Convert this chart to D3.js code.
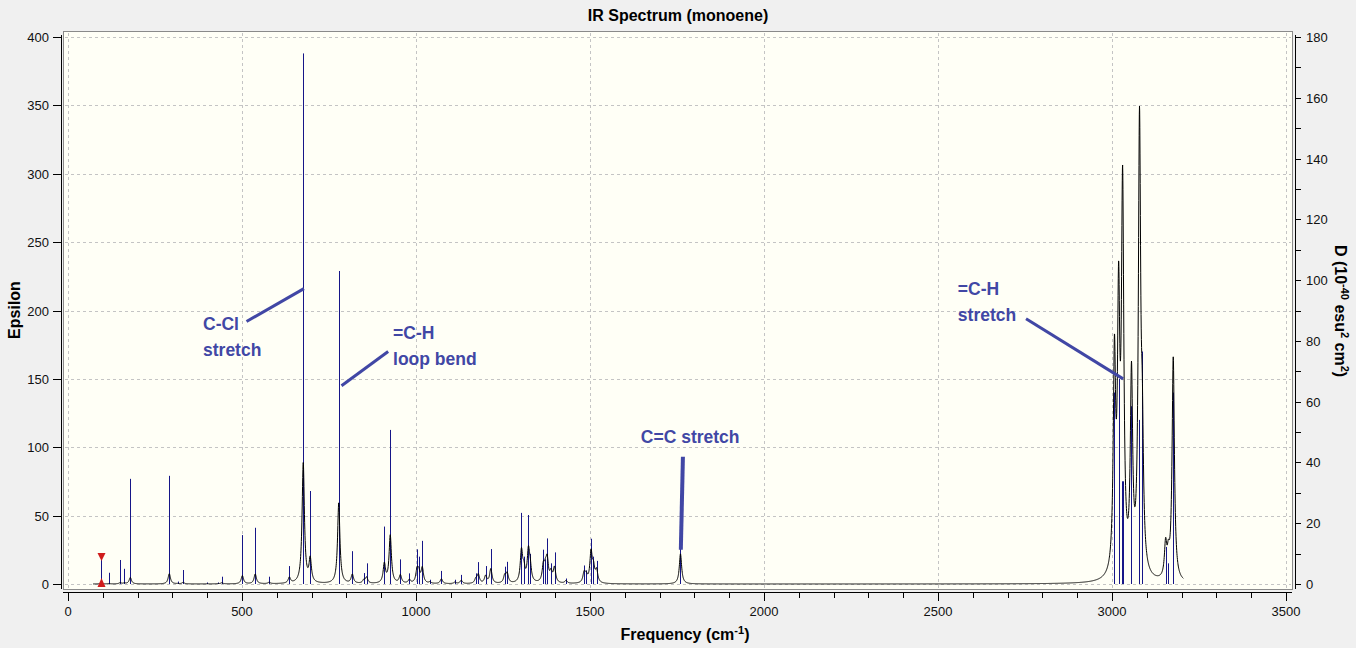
<!DOCTYPE html>
<html>
<head>
<meta charset="utf-8">
<script src="https://cdn.jsdelivr.net/npm/d3@7"></script>
<style>
  body { margin: 0; background: #f0f0f0; }
  text { font-family: 'Liberation Sans', Arial, sans-serif; }
</style>
</head>
<body>
<div id="chart"></div>
<script>
(function(){

// Data

// normal mode frequencies (cm-1)
let modeFreq = [95, 117, 150, 162, 179, 291, 315, 331, 400, 430, 442, 501, 538, 578, 636,
  676, 696, 778, 817, 850, 858, 909, 926, 955, 981, 1003, 1008, 1018, 1040, 1073, 1112,
  1130, 1172, 1179, 1200, 1215, 1255, 1262, 1303, 1310, 1323, 1328, 1366, 1372, 1377,
  1388, 1398, 1431, 1483, 1489, 1503, 1510, 1519, 1760,
  3007, 3019, 3030, 3031, 3056, 3079, 3087, 3154, 3162, 3176]

// stick heights, dipole strength D (10^-40 esu^2 cm^2, right axis)
let modeD = [8.9, 3.7, 7.9, 5.0, 34.6, 35.6, 0.8, 4.6, 0.5, 0.5, 2.4, 16.1, 18.5, 2.4, 5.9,
  174.6, 30.6, 103, 10.8, 3.6, 6.8, 18.9, 50.7, 8.1, 3.5, 11.4, 9.0, 14.2, 1.4, 4.3, 1.4,
  3.0, 3.5, 7.2, 5.9, 11.5, 5.7, 7.3, 23.4, 9.0, 22.7, 9.9, 11.3, 8.1, 15.0,
  6.8, 10.4, 1.8, 6.1, 4.5, 14.9, 9.0, 7.6, 17,
  63, 67.5, 33.8, 33.8, 58.5, 54, 76.5, 12.2, 6.8, 63]

// band height of each mode in the broadened spectrum (Epsilon, left axis)
let modeEps = [0.6, 0.3, 0.9, 0.6, 4.7, 7.5, 0.2, 1.1, 0.1, 0.2, 0.8, 6.0, 7.2, 1.0, 4.2,
  88, 17, 59, 6.5, 2.3, 4.4, 14, 35, 6, 2.6, 9, 7, 11, 1, 3.5, 1.1,
  2.5, 3.1, 6.4, 5.4, 10.6, 5.4, 7, 23, 9, 22, 10, 11.6, 8.4, 15.6,
  7, 11, 2, 7, 5, 22, 10, 8.7, 22,
  154, 187, 140, 140, 142, 325, 84, 24, 14, 163]

let selectedMode = 95
let halfWidth = 4          // lorentzian half width at half height, cm-1
let curveRange = [72, 3205]

let xTicks = [0, 500, 1000, 1500, 2000, 2500, 3000, 3500]
let epsTicks = [0, 50, 100, 150, 200, 250, 300, 350, 400]
let dTicks = [0, 20, 40, 60, 80, 100, 120, 140, 160, 180]

let noteText = [['C-Cl', 'stretch'], ['=C-H', 'loop bend'], ['C=C stretch'], ['=C-H', 'stretch']]

// Layout

let width = 1356
let height = 648
let frame = { left: 63, top: 31, right: 1292, bottom: 589 }

let svg = d3.select('#chart')
  .append('svg')
  .attr('width', width)
  .attr('height', height)

let xScale = d3.scaleLinear().domain([0, 3500]).range([68, 1286])
let yEps = d3.scaleLinear().domain([0, 400]).range([584, 37])
let yD = d3.scaleLinear().domain([0, 180]).range([584, 37])

svg.append('defs').append('clipPath')
  .attr('id', 'plot-clip')
  .append('rect')
  .attr('x', frame.left + 1)
  .attr('y', frame.top + 1)
  .attr('width', frame.right - frame.left - 2)
  .attr('height', frame.bottom - frame.top - 2)

svg.append('rect')
  .attr('x', frame.left + 0.5)
  .attr('y', frame.top + 0.5)
  .attr('width', frame.right - frame.left)
  .attr('height', frame.bottom - frame.top)
  .attr('fill', '#fffff6')
  .attr('stroke', '#8a8a8a')

// Grid

let grid = svg.append('g').attr('stroke', '#c4c4c4').attr('stroke-dasharray', '3,3')

grid.selectAll('.vgrid')
  .data(xTicks)
  .enter().append('line')
  .attr('x1', d => Math.round(xScale(d)) + 0.5)
  .attr('x2', d => Math.round(xScale(d)) + 0.5)
  .attr('y1', frame.top + 2)
  .attr('y2', frame.bottom - 1)

grid.selectAll('.hgrid')
  .data(epsTicks)
  .enter().append('line')
  .attr('y1', d => Math.round(yEps(d)) + 0.5)
  .attr('y2', d => Math.round(yEps(d)) + 0.5)
  .attr('x1', frame.left + 2)
  .attr('x2', frame.right - 1)

// Spectrum

let plot = svg.append('g').attr('clip-path', 'url(#plot-clip)')

let modes = modeFreq.map((f, i) => ({ freq: f, d: modeD[i], eps: modeEps[i] }))

let curve = []
for (let nu = curveRange[0]; nu <= curveRange[1]; nu += 0.5) {
  let e = 0
  modes.forEach(m => {
    let dx = (nu - m.freq) / halfWidth
    e += m.eps / (1 + dx * dx)
  })
  curve.push([nu, e])
}

plot.selectAll('.stick')
  .data(modes)
  .enter().append('line')
  .attr('class', 'stick')
  .attr('x1', d => Math.round(xScale(d.freq)) + 0.5)
  .attr('x2', d => Math.round(xScale(d.freq)) + 0.5)
  .attr('y1', yD(0))
  .attr('y2', d => yD(d.d))
  .attr('stroke', '#161688')
  .attr('stroke-width', 1)

plot.append('path')
  .datum(curve)
  .attr('d', d3.line().x(d => xScale(d[0])).y(d => yEps(d[1])))
  .attr('fill', 'none')
  .attr('stroke', '#000')
  .attr('stroke-width', 1)

// selected mode markers
let sel = modes.find(m => m.freq === selectedMode)
let sx = Math.round(xScale(sel.freq)) + 0.5
svg.append('path')
  .attr('d', `M${sx - 4},${yD(sel.d) - 4} L${sx + 4},${yD(sel.d) - 4} L${sx},${yD(sel.d) + 4} Z`)
  .attr('fill', '#d01c1c')
svg.append('path')
  .attr('d', `M${sx - 4},${yD(0) + 3} L${sx + 4},${yD(0) + 3} L${sx},${yD(0) - 6} Z`)
  .attr('fill', '#d01c1c')

// Axes

let xAxis = svg.append('g').attr('transform', 'translate(0,592)')
xAxis.append('line')
  .attr('x1', frame.left).attr('x2', frame.right)
  .attr('y1', 0.5).attr('y2', 0.5)
  .attr('stroke', '#000')
xAxis.selectAll('.minor')
  .data(d3.range(0, 3501, 100))
  .enter().append('line')
  .attr('x1', d => Math.round(xScale(d)) + 0.5)
  .attr('x2', d => Math.round(xScale(d)) + 0.5)
  .attr('y1', 1)
  .attr('y2', d => d % 500 === 0 ? 9 : 6)
  .attr('stroke', '#000')
xAxis.selectAll('.xlabel')
  .data(xTicks)
  .enter().append('text')
  .attr('x', d => xScale(d))
  .attr('y', 24)
  .attr('text-anchor', 'middle')
  .attr('font-size', 13)
  .attr('fill', '#111')
  .text(d => d)

let leftAxis = svg.append('g').attr('transform', 'translate(61,0)')
leftAxis.append('line')
  .attr('x1', 0.5).attr('x2', 0.5)
  .attr('y1', 35).attr('y2', frame.bottom)
  .attr('stroke', '#000')
leftAxis.selectAll('.tick')
  .data(epsTicks)
  .enter().append('line')
  .attr('x1', -8).attr('x2', 0)
  .attr('y1', d => Math.round(yEps(d)) + 0.5)
  .attr('y2', d => Math.round(yEps(d)) + 0.5)
  .attr('stroke', '#000')
leftAxis.selectAll('.label')
  .data(epsTicks)
  .enter().append('text')
  .attr('x', -12)
  .attr('y', d => yEps(d) + 5)
  .attr('text-anchor', 'end')
  .attr('font-size', 13)
  .attr('fill', '#111')
  .text(d => d)

let rightAxis = svg.append('g').attr('transform', 'translate(1295,0)')
rightAxis.append('line')
  .attr('x1', 0.5).attr('x2', 0.5)
  .attr('y1', 35).attr('y2', frame.bottom)
  .attr('stroke', '#000')
rightAxis.selectAll('.tick')
  .data(d3.range(0, 181, 10))
  .enter().append('line')
  .attr('x1', 0).attr('x2', 6)
  .attr('y1', d => Math.round(yD(d)) + 0.5)
  .attr('y2', d => Math.round(yD(d)) + 0.5)
  .attr('stroke', '#000')
rightAxis.selectAll('.label')
  .data(dTicks)
  .enter().append('text')
  .attr('x', 11)
  .attr('y', d => yD(d) + 5)
  .attr('font-size', 13)
  .attr('fill', '#111')
  .text(d => d)

// Titles

svg.append('text')
  .attr('x', 678)
  .attr('y', 21)
  .attr('text-anchor', 'middle')
  .attr('font-size', 16)
  .attr('font-weight', 'bold')
  .text('IR Spectrum (monoene)')

let xTitle = svg.append('text')
  .attr('x', 685)
  .attr('y', 640)
  .attr('text-anchor', 'middle')
  .attr('font-size', 16)
  .attr('font-weight', 'bold')
xTitle.append('tspan').text('Frequency (cm')
xTitle.append('tspan').attr('font-size', 11).attr('dy', -6).text('-1')
xTitle.append('tspan').attr('dy', 6).text(')')

svg.append('text')
  .attr('transform', 'translate(20,310) rotate(-90)')
  .attr('text-anchor', 'middle')
  .attr('font-size', 16)
  .attr('font-weight', 'bold')
  .text('Epsilon')

let dTitle = svg.append('text')
  .attr('transform', 'translate(1335,311) rotate(90)')
  .attr('text-anchor', 'middle')
  .attr('font-size', 16)
  .attr('font-weight', 'bold')
dTitle.append('tspan').text('D (10')
dTitle.append('tspan').attr('font-size', 11).attr('dy', -6).text('-40')
dTitle.append('tspan').attr('dy', 6).text(' esu')
dTitle.append('tspan').attr('font-size', 11).attr('dy', -6).text('2')
dTitle.append('tspan').attr('dy', 6).text(' cm')
dTitle.append('tspan').attr('font-size', 11).attr('dy', -6).text('2')
dTitle.append('tspan').attr('dy', 6).text(')')

// Annotations (anchors in frequency / epsilon units)

let notes = [
  { text: noteText[0], at: [388, 186], from: [513, 192], to: [678, 216], w: 3 },
  { text: noteText[1], at: [934, 179], from: [786, 145], to: [920, 170], w: 3 },
  { text: noteText[2], at: [1646, 103], from: [1767, 93], to: [1761, 25], w: 4 },
  { text: noteText[3], at: [2557, 211], from: [2753, 194], to: [3032, 150], w: 3 }
]

let noteColor = '#4147a5'

notes.forEach(n => {
  svg.append('line')
    .attr('x1', xScale(n.from[0])).attr('y1', yEps(n.from[1]))
    .attr('x2', xScale(n.to[0])).attr('y2', yEps(n.to[1]))
    .attr('stroke', noteColor)
    .attr('stroke-width', n.w)
  let t = svg.append('text')
    .attr('x', xScale(n.at[0]))
    .attr('y', yEps(n.at[1]))
    .attr('font-family', "'Noto Sans', sans-serif")
    .attr('font-size', 17.5)
    .attr('font-weight', 'bold')
    .attr('fill', noteColor)
  n.text.forEach((s, i) => {
    t.append('tspan')
      .attr('x', xScale(n.at[0]))
      .attr('dy', i === 0 ? 0 : 26)
      .text(s)
  })
})

})()
</script>
</body>
</html>
